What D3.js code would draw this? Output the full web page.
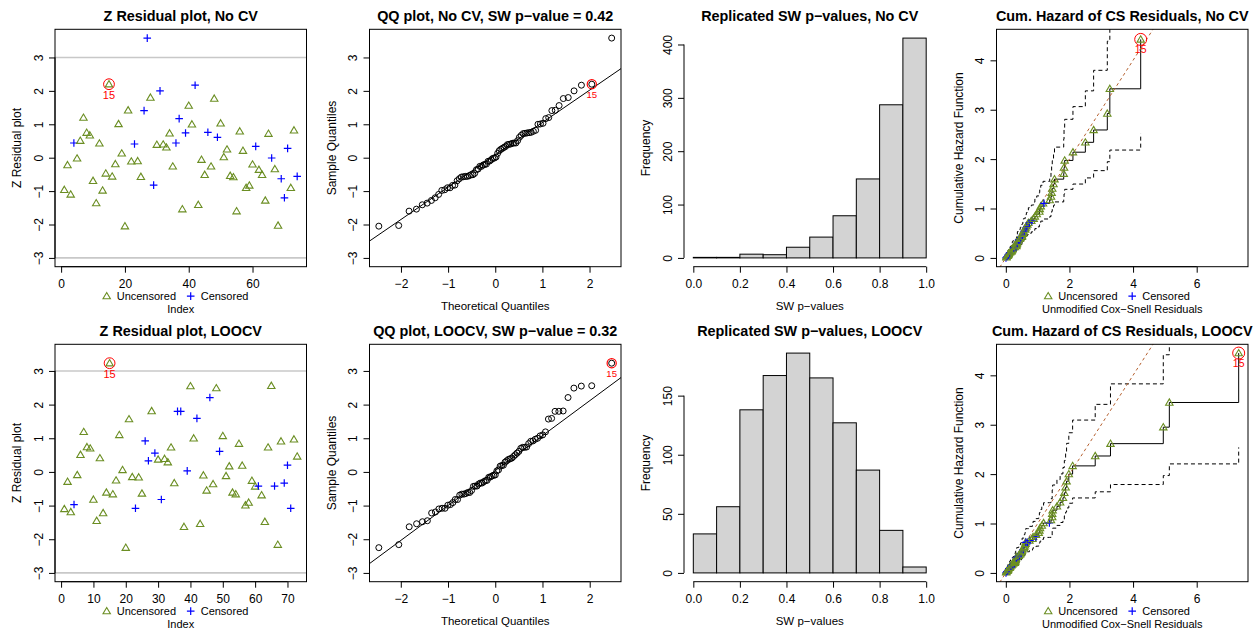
<!DOCTYPE html>
<html><head><meta charset="utf-8">
<script src="https://cdn.jsdelivr.net/npm/d3@7"></script>
<style>body{margin:0;background:#fff;} text{font-family:"Liberation Sans",Arial,Helvetica,sans-serif;}</style>
</head><body>
<script>
// ---------------- DATA ----------------
const zNoCV = [-0.96,-0.22,-1.10,0.44,-0.02,0.51,1.20,0.75,0.67,-0.69,
  -1.36,0.43,-0.98,-0.47,2.20,-0.56,-0.19,1.01,0.13,-2.05,
  1.42,-0.11,0.41,-0.10,-0.57,1.41,3.58,1.80,-0.82,0.39,
  2.00,0.40,0.31,0.73,-0.26,0.44,1.17,-1.54,0.74,1.56,
  1.00,2.17,-1.41,-0.06,-0.51,0.76,-0.26,1.77,0.61,1.03,
  0.02,0.25,-0.54,-0.58,-1.60,0.79,0.21,-0.90,-0.83,-0.20,
  0.34,-0.36,-0.51,-1.28,0.72,-0.01,-0.34,-2.03,-0.63,-1.20,
  0.28,-0.90,0.82,-0.56];
const censNoCV = [4,23,26,27,29,31,36,37,39,42,46,49,61,66,69,70,71,74];

const zLOOCV = [-1.10,-0.29,-1.19,-0.97,-0.09,0.51,1.19,0.74,0.70,-0.82,
  -1.45,0.41,-1.22,-0.61,3.23,-0.66,-0.25,1.10,0.06,-2.25,
  1.57,-0.15,-1.08,-0.16,-0.64,0.92,0.33,1.81,0.56,0.37,
  -0.82,0.39,0.29,0.73,-0.33,1.80,1.80,-1.63,0.03,2.55,
  1.00,1.59,-1.54,-0.10,-0.55,2.21,-0.36,2.49,0.61,1.07,
  -0.12,0.17,-0.61,-0.66,0.84,0.19,-0.99,-0.91,-0.26,-0.43,
  -0.42,-0.69,-1.48,0.73,2.56,-0.42,-2.16,0.91,-0.33,0.20,
  -1.08,0.97,0.46];
const censLOOCV = [4,23,26,27,29,31,36,37,39,42,46,49,61,66,69,70,71];

const flagId = 15;
const swNoCV = "0.42", swLOOCV = "0.32";

const histBreaks = [0,0.1,0.2,0.3,0.4,0.5,0.6,0.7,0.8,0.9,1.0];
const histNoCV = [1,1,7,6,20,39,79,148,287,412];
const histLOOCV = [33,56,138,167,186,165,127,87,36,5];

const csEventNoCV = [0.020,0.021,0.056,0.064,0.083,0.091,0.106,0.146,0.179,0.185,
  0.203,0.203,0.227,0.281,0.330,0.335,0.339,0.349,0.364,0.364,
  0.385,0.445,0.457,0.507,0.507,0.533,0.546,0.553,0.609,0.617,
  0.647,0.677,0.709,0.802,0.875,0.913,0.972,1.055,1.066,1.098,
  1.170,1.380,1.420,1.440,1.460,1.500,1.530,1.820,1.830,1.850,
  2.110,2.500,2.760,3.190,3.270,4.240];
const csCensNoCV = [0.005,0.040,0.070,0.090,0.120,0.250,0.320,0.360,0.400,0.440,
  0.470,0.520,0.580,0.630,0.660,0.740,0.820,1.200];
const csEventLOOCV = [0.012,0.016,0.053,0.064,0.072,0.076,0.118,0.124,0.146,0.176,
  0.200,0.231,0.281,0.294,0.294,0.303,0.316,0.316,0.344,0.406,
  0.445,0.463,0.488,0.507,0.513,0.573,0.581,0.602,0.617,0.624,
  0.742,0.838,0.856,0.952,1.034,1.055,1.076,1.131,1.187,1.419,
  1.458,1.458,1.472,1.607,1.707,1.796,1.840,1.880,1.910,1.980,
  2.100,2.810,3.290,4.950,5.140,7.320];
const csCensLOOCV = [0.005,0.030,0.060,0.100,0.160,0.220,0.270,0.330,0.380,0.430,
  0.480,0.550,0.630,0.680,0.760,0.950,1.370];

const zTicksXNoCV = [0,20,40,60];
const zTicksXLOOCV = [0,10,20,30,40,50,60,70];
const zTicksY = [-3,-2,-1,0,1,2,3];
const qqTicksX = [-2,-1,0,1,2];
const histTicksX = [0,0.2,0.4,0.6,0.8,1.0];
const histTicksYNoCV = [0,100,200,300,400];
const histTicksYLOOCV = [0,50,100,150];
const chTicksX = [0,2,4,6];
const chTicksY = [0,1,2,3,4];

// ---------------- LAYOUT ----------------
const FONT = '"Liberation Sans",Arial,Helvetica,sans-serif';
const GREEN = "#6B8E23", BLUE = "#0000FF", RED = "#FF0000";
const colL = [55, 369.5, 684, 996.5], PW = 251.5, rowT = [29.3, 344.3], PH = 237.4;
const svg = d3.select("body").append("svg").attr("width",1260).attr("height",630)
  .style("font-family",FONT);
let clipN = 0;
function frame(c,r){const x0=colL[c],y0=rowT[r];return {x0,y0,x1:x0+PW,y1:y0+PH};}
function ext(a,b){const d=(b-a)*0.04;return [a-d,b+d];}
function addClip(f){const id="clip"+(clipN++);
  svg.append("clipPath").attr("id",id).append("rect").attr("x",f.x0).attr("y",f.y0).attr("width",PW).attr("height",PH);
  return "url(#"+id+")";}
function title(f,t){svg.append("text").attr("x",(f.x0+f.x1)/2).attr("y",f.y0-8.6)
  .attr("text-anchor","middle").attr("font-weight","bold").attr("font-size",14.4).text(t);}
function box(f){svg.append("rect").attr("x",f.x0).attr("y",f.y0).attr("width",PW).attr("height",PH)
  .attr("fill","none").attr("stroke","#000").attr("stroke-width",1);}
function xAxis(f,scale,ticks,fmt){
  const g=svg.append("g").attr("transform",`translate(0,${f.y1})`)
    .call(d3.axisBottom(scale).tickValues(ticks).tickFormat(fmt).tickSize(6).tickSizeOuter(0));
  g.select(".domain").remove();
  g.append("line").attr("x1",scale(ticks[0])).attr("x2",scale(ticks[ticks.length-1])).attr("stroke","#000");
  g.selectAll(".tick line").attr("stroke","#000");
  g.selectAll(".tick text").attr("y",21.2).attr("dy",0).attr("font-size",12)
    .attr("font-family",FONT).attr("fill","#000");
}
function yAxis(f,scale,ticks,fmt){
  const g=svg.append("g").attr("transform",`translate(${f.x0},0)`)
    .call(d3.axisLeft(scale).tickValues(ticks).tickFormat(fmt).tickSize(6).tickSizeOuter(0));
  g.select(".domain").remove();
  g.append("line").attr("y1",scale(ticks[0])).attr("y2",scale(ticks[ticks.length-1])).attr("stroke","#000");
  g.selectAll(".tick line").attr("stroke","#000");
  g.selectAll(".tick text").attr("x",0).attr("y",-12.4).attr("dy",0).attr("transform","rotate(-90)")
    .attr("text-anchor","middle").attr("font-size",12).attr("font-family",FONT).attr("fill","#000");
}
function xLabel(f,t,dy,fs){svg.append("text").attr("x",(f.x0+f.x1)/2).attr("y",f.y1+(dy||45.8))
  .attr("text-anchor","middle").attr("font-size",fs||11).text(t);}
function yLabel(f,t){svg.append("text").attr("transform",`translate(${f.x0-34},${(f.y0+f.y1)/2}) rotate(-90)`)
  .attr("text-anchor","middle").attr("font-size",12).text(t);}
function tri(g,x,y){return g.append("path").attr("d",`M${x},${y-3.6}L${x+3.7},${y+2.7}L${x-3.7},${y+2.7}Z`)
  .attr("fill","none").attr("stroke",GREEN).attr("stroke-width",1.1);}
function plus(g,x,y){return g.append("path").attr("d",`M${x-3.8},${y}H${x+3.8}M${x},${y-3.8}V${y+3.8}`)
  .attr("fill","none").attr("stroke",BLUE).attr("stroke-width",1.2);}
function legend(f){
  const tb=f.y1+33.6, y=tb-4.2;
  tri(svg,f.x0+51.7,y);
  svg.append("text").attr("x",f.x0+61.7).attr("y",tb).attr("font-size",11).text("Uncensored");
  plus(svg,f.x0+135.7,y);
  svg.append("text").attr("x",f.x0+145.7).attr("y",tb).attr("font-size",11).text("Censored");
}
const fmtInt = d3.format("d");

// ---------------- Z residual panel ----------------
function zPanel(c,r,z,cens,ttl,xt,yDom){
  const f=frame(c,r), n=z.length;
  const x=d3.scaleLinear().domain(ext(1,n)).range([f.x0,f.x1]);
  const y=d3.scaleLinear().domain(yDom).range([f.y1,f.y0]);
  const g=svg.append("g").attr("clip-path",addClip(f));
  [-3,3].forEach(v=>g.append("line").attr("x1",f.x0).attr("x2",f.x1).attr("y1",y(v)).attr("y2",y(v))
    .attr("stroke","#C8C8C8").attr("stroke-width",1.6));
  z.forEach((v,i)=>{const id=i+1;
    if(cens.includes(id)) plus(g,x(id),y(v)); else tri(g,x(id),y(v));});
  const fv=z[flagId-1];
  g.append("circle").attr("cx",x(flagId)).attr("cy",y(fv)).attr("r",5.4).attr("fill","none").attr("stroke",RED).attr("stroke-width",1);
  g.append("text").attr("x",x(flagId)).attr("y",y(fv)+15).attr("text-anchor","middle").attr("font-size",11).attr("fill",RED).text(String(flagId));
  box(f);
  xAxis(f,x,xt,fmtInt); yAxis(f,y,zTicksY,fmtInt);
  title(f,ttl); yLabel(f,"Z Residual plot"); legend(f); xLabel(f,"Index");
}

// ---------------- QQ panel ----------------
function qnorm(p){
  const a=[-3.969683028665376e+01,2.209460984245205e+02,-2.759285104469687e+02,1.383577518672690e+02,-3.066479806614716e+01,2.506628277459239e+00];
  const b=[-5.447609879822406e+01,1.615858368580409e+02,-1.556989798598866e+02,6.680131188771972e+01,-1.328068155288572e+01];
  const c=[-7.784894002430293e-03,-3.223964580411365e-01,-2.400758277161838e+00,-2.549732539343734e+00,4.374664141464968e+00,2.938163982698783e+00];
  const d=[7.784695709041462e-03,3.224671290700398e-01,2.445134137142996e+00,3.754408661907416e+00];
  const pl=0.02425;
  if(p<pl){const q=Math.sqrt(-2*Math.log(p));return (((((c[0]*q+c[1])*q+c[2])*q+c[3])*q+c[4])*q+c[5])/((((d[0]*q+d[1])*q+d[2])*q+d[3])*q+1);}
  if(p<=1-pl){const q=p-0.5,rr=q*q;return (((((a[0]*rr+a[1])*rr+a[2])*rr+a[3])*rr+a[4])*rr+a[5])*q/(((((b[0]*rr+b[1])*rr+b[2])*rr+b[3])*rr+b[4])*rr+1);}
  const q=Math.sqrt(-2*Math.log(1-p));return -(((((c[0]*q+c[1])*q+c[2])*q+c[3])*q+c[4])*q+c[5])/((((d[0]*q+d[1])*q+d[2])*q+d[3])*q+1);
}
function qqPanel(c,r,z,ttl,yDom){
  const f=frame(c,r), n=z.length;
  const pts=z.map((v,i)=>({id:i+1,v})).sort((a,b)=>a.v-b.v);
  pts.forEach((p,i)=>p.q=qnorm((i+0.5)/n));
  const qr=d3.extent(pts,p=>p.q);
  const x=d3.scaleLinear().domain(ext(qr[0],qr[1])).range([f.x0,f.x1]);
  const y=d3.scaleLinear().domain(yDom).range([f.y1,f.y0]);
  const g=svg.append("g").attr("clip-path",addClip(f));
  const sv=pts.map(p=>p.v);
  const q1=d3.quantile(sv,0.25), q3=d3.quantile(sv,0.75);
  const slope=(q3-q1)/(qnorm(0.75)-qnorm(0.25)), icpt=q1-slope*qnorm(0.25);
  const xd=x.domain();
  g.append("line").attr("x1",x(xd[0])).attr("y1",y(icpt+slope*xd[0])).attr("x2",x(xd[1])).attr("y2",y(icpt+slope*xd[1]))
    .attr("stroke","#000").attr("stroke-width",1);
  pts.forEach(p=>g.append("circle").attr("cx",x(p.q)).attr("cy",y(p.v)).attr("r",3).attr("fill","none").attr("stroke","#000").attr("stroke-width",1));
  const fp=pts.find(p=>p.id===flagId);
  g.append("circle").attr("cx",x(fp.q)).attr("cy",y(fp.v)).attr("r",4.6).attr("fill","none").attr("stroke",RED).attr("stroke-width",1.2);
  g.append("text").attr("x",x(fp.q)).attr("y",y(fp.v)+13.4).attr("text-anchor","middle").attr("font-size",9.6).attr("fill",RED).text(String(flagId));
  box(f);
  xAxis(f,x,qqTicksX,fmtInt); yAxis(f,y,zTicksY,fmtInt);
  title(f,ttl); yLabel(f,"Sample Quantiles"); xLabel(f,"Theoretical Quantiles",43.6,11.5);
}

// ---------------- Histogram panel ----------------
function histPanel(c,r,counts,ttl,yt){
  const f=frame(c,r);
  const x=d3.scaleLinear().domain(ext(histBreaks[0],histBreaks[histBreaks.length-1])).range([f.x0,f.x1]);
  const y=d3.scaleLinear().domain(ext(0,d3.max(counts))).range([f.y1,f.y0]);
  svg.append("g").selectAll("rect").data(counts).join("rect")
    .attr("x",(d,i)=>x(histBreaks[i])).attr("width",(d,i)=>x(histBreaks[i+1])-x(histBreaks[i]))
    .attr("y",d=>y(d)).attr("height",d=>y(0)-y(d))
    .attr("fill","#D3D3D3").attr("stroke","#000").attr("stroke-width",1);
  xAxis(f,x,histTicksX,d3.format(".1f")); yAxis(f,y,yt,fmtInt);
  title(f,ttl); yLabel(f,"Frequency"); xLabel(f,"SW p\u2212values",43.6,11.5);
}

// ---------------- Cumulative hazard panel ----------------
function naFit(ev,ce){
  const all=ev.map(v=>({r:v,d:1})).concat(ce.map(v=>({r:v,d:0}))).sort((a,b)=>a.r-b.r||b.d-a.d);
  const N=all.length; let Hc=0,V=0;
  all.forEach((p,i)=>{const nr=N-i; if(p.d){Hc+=1/nr;V+=1/(nr*nr);}
    p.H=Hc; const s=Hc>0?1.96*Math.sqrt(V)/Hc:0; p.lo=Hc*Math.exp(-s); p.hi=Hc*Math.exp(s);});
  return all;
}
const fitNoCV = naFit(csEventNoCV, csCensNoCV);
const fitLOOCV = naFit(csEventLOOCV, csCensLOOCV);
const chXmax = d3.max(csEventNoCV.concat(csEventLOOCV));
const chYmax = Math.max(d3.max(fitNoCV,p=>p.H), d3.max(fitLOOCV,p=>p.H));
function chPanel(c,r,fit,ttl){
  const f=frame(c,r);
  const x=d3.scaleLinear().domain(ext(0,chXmax)).range([f.x0,f.x1]);
  const y=d3.scaleLinear().domain(ext(0,chYmax)).range([f.y1,f.y0]);
  const g=svg.append("g").attr("clip-path",addClip(f));
  const mk=k=>d3.line().x(p=>x(p.r)).y(p=>y(p[k])).curve(d3.curveStepAfter);
  g.append("path").attr("d",mk("H")(fit)).attr("fill","none").attr("stroke","#000").attr("stroke-width",1);
  ["lo","hi"].forEach(k=>g.append("path").attr("d",mk(k)(fit)).attr("fill","none").attr("stroke","#000")
    .attr("stroke-width",1).attr("stroke-dasharray","4,3"));
  const xd=x.domain();
  g.append("line").attr("x1",x(xd[0])).attr("y1",y(xd[0])).attr("x2",x(xd[1])).attr("y2",y(xd[1]))
    .attr("stroke","#B5602F").attr("stroke-width",1).attr("stroke-dasharray","3,3");
  fit.forEach(p=>{ if(p.d) tri(g,x(p.r),y(p.H)); else plus(g,x(p.r),y(p.H)); });
  const fp=fit.reduce((a,b)=>(b.d&&b.r>a.r)?b:a, fit[0]);
  g.append("circle").attr("cx",x(fp.r)).attr("cy",y(fp.H)).attr("r",6).attr("fill","none").attr("stroke",RED).attr("stroke-width",1);
  g.append("text").attr("x",x(fp.r)).attr("y",y(fp.H)+14).attr("text-anchor","middle").attr("font-size",10.5).attr("fill",RED).text(String(flagId));
  box(f);
  xAxis(f,x,chTicksX,fmtInt); yAxis(f,y,chTicksY,fmtInt);
  title(f,ttl); yLabel(f,"Cumulative Hazard Function"); legend(f); xLabel(f,"Unmodified Cox\u2212Snell Residuals");
}

// ---------------- DRAW ----------------
zPanel(0,0,zNoCV,censNoCV,"Z Residual plot, No CV",zTicksXNoCV,ext(-3,3.58));
qqPanel(1,0,zNoCV,"QQ plot, No CV, SW p\u2212value = "+swNoCV,ext(-3,3.58));
histPanel(2,0,histNoCV,"Replicated SW p\u2212values, No CV",histTicksYNoCV);
chPanel(3,0,fitNoCV,"Cum. Hazard of CS Residuals, No CV");
zPanel(0,1,zLOOCV,censLOOCV,"Z Residual plot, LOOCV",zTicksXLOOCV,ext(-3,3.53));
qqPanel(1,1,zLOOCV,"QQ plot, LOOCV, SW p\u2212value = "+swLOOCV,ext(-3,3.53));
histPanel(2,1,histLOOCV,"Replicated SW p\u2212values, LOOCV",histTicksYLOOCV);
chPanel(3,1,fitLOOCV,"Cum. Hazard of CS Residuals, LOOCV");
</script></body></html>
